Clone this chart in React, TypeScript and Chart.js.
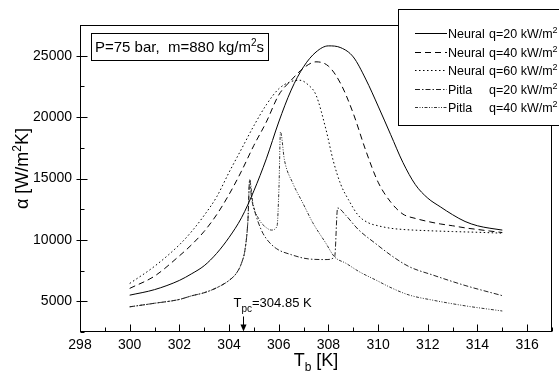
import React, { useEffect, useRef } from 'react';
import { Chart, registerables } from 'chart.js';

Chart.register(...registerables);

const FONT = '"Liberation Sans", Arial, Helvetica, sans-serif';

// ---- data ----
const neural20T = [300, 301, 302, 302.5, 303, 303.5, 304, 304.5, 305, 305.5, 306, 306.5, 307, 307.5, 308, 308.5, 309, 309.5, 310, 310.5, 311, 311.5, 312, 312.5, 313, 313.5, 314, 314.5, 315];
const neural20V = [5500, 5950, 6700, 7250, 7900, 8900, 10200, 11800, 14000, 16600, 19600, 22200, 24100, 25300, 25800, 25650, 24900, 23100, 20900, 18600, 16300, 14500, 13400, 12700, 12050, 11500, 11150, 10950, 10800];

const neural40T = [300, 301, 302, 302.5, 303, 303.5, 304, 304.5, 305, 305.5, 306, 306.5, 307, 307.5, 308, 308.5, 309, 309.5, 310, 310.5, 311, 311.5, 312, 312.5, 313, 313.5, 314, 314.5, 315];
const neural40V = [6050, 7050, 8700, 9620, 10700, 12050, 13700, 15600, 17700, 19600, 21800, 23000, 24000, 24500, 24150, 22700, 20300, 17300, 14700, 13100, 12100, 11750, 11500, 11300, 11150, 10980, 10850, 10720, 10600];

const neural60T = [300, 301, 302, 302.5, 303, 303.5, 304, 304.5, 305, 305.5, 306, 306.5, 306.85, 307.2, 307.5, 307.9, 308.2, 308.5, 308.8, 309.2, 309.6, 310, 310.5, 311, 312, 313, 314, 315];
const neural60V = [6450, 7850, 9600, 10700, 12000, 13500, 15500, 17400, 19300, 21000, 22300, 22900, 23000, 22600, 21800, 19000, 16400, 14500, 13300, 12000, 11400, 11150, 10950, 10850, 10750, 10680, 10620, 10550];

const pitla20T = [300, 301, 302, 302.5, 303, 303.5, 304, 304.3, 304.5, 304.65, 304.76, 304.83, 304.9, 305.1, 305.3, 305.5, 305.9, 306.5, 307.2, 307.9, 308.25, 308.37, 308.7, 309.2, 309.9, 310.6, 311.25, 312.2, 313.5, 315];
const pitla20V = [4550, 4840, 5150, 5450, 5700, 6100, 6700, 7300, 8100, 9300, 11600, 14900, 13500, 11900, 10800, 10100, 9300, 8800, 8450, 8400, 8600, 12600, 12000, 10850, 9700, 8630, 7820, 7140, 6290, 5460];

const pitla40T = [300, 301, 302, 302.5, 303, 303.5, 304, 304.3, 304.5, 304.65, 304.76, 304.83, 304.96, 305.23, 305.5, 305.7, 305.93, 306.01, 306.07, 306.23, 306.57, 306.97, 307.37, 307.9, 308.24, 308.71, 309.24, 309.91, 310.58, 311.25, 312.18, 313.54, 315];
const pitla40V = [4550, 4840, 5150, 5450, 5700, 6100, 6700, 7300, 8100, 9300, 11600, 14900, 13000, 11600, 11000, 10800, 11100, 14300, 18800, 16500, 14600, 13000, 11400, 9720, 8630, 8090, 7410, 6730, 6050, 5510, 5100, 4620, 4210];

const seriesNames = ['Neural', 'Neural', 'Neural', 'Pitla', 'Pitla'];
const seriesQ = ['q=20 kW/m', 'q=40 kW/m', 'q=60 kW/m', 'q=20 kW/m', 'q=40 kW/m'];
const seriesDash = [[], [6, 4], [1.5, 2.5], [5, 2, 1.5, 2], [3, 1.5, 1, 1.5, 1, 1.5]];
const seriesColor = ['#000', '#000', '#000', '#222', '#333'];

const xMin = 298, xMax = 317, xStep = 1;
const yMin = 2500, yMax = 27500, yStep = 2500;
const tpcArrowT = 304.55;
const tpcLabel = '=304.85 K';
const conditionRuns = ['P=75 bar,  m=880 kg/m', '2', 's'];

type Run = { t: string; s: number; dy: number };

function drawRuns(ctx: CanvasRenderingContext2D, runs: Run[], x: number, y: number, align: 'left' | 'center') {
  let w = 0;
  runs.forEach(r => { ctx.font = `${r.s}px ${FONT}`; w += ctx.measureText(r.t).width; });
  let cx = align === 'center' ? x - w / 2 : x;
  ctx.textAlign = 'left';
  ctx.textBaseline = 'alphabetic';
  runs.forEach(r => {
    ctx.font = `${r.s}px ${FONT}`;
    ctx.fillText(r.t, cx, y + r.dy);
    cx += ctx.measureText(r.t).width;
  });
}

const overlay = {
  id: 'overlay',
  afterDraw(chart: any) {
    const { ctx, chartArea: a } = chart;
    const xs = chart.scales.x, ys = chart.scales.y;
    ctx.save();
    ctx.strokeStyle = '#000';
    ctx.fillStyle = '#000';
    ctx.lineWidth = 1;
    ctx.setLineDash([]);
    const L = Math.round(a.left) + 0.5, R = Math.round(a.right) - 0.5;
    const T = Math.round(a.top) + 0.5, B = Math.round(a.bottom) - 0.5;
    ctx.strokeRect(L, T, R - L, B - T);

    xs.ticks.forEach((t: any) => {
      const px = Math.round(xs.getPixelForValue(t.value)) + 0.5;
      const major = t.value % 2 === 0;
      ctx.beginPath(); ctx.moveTo(px, B); ctx.lineTo(px, B - (major ? 7 : 4)); ctx.stroke();
    });
    ys.ticks.forEach((t: any) => {
      const py = Math.round(ys.getPixelForValue(t.value)) + 0.5;
      const major = t.value % 5000 === 0;
      ctx.beginPath(); ctx.moveTo(major ? L - 4 : L, py); ctx.lineTo(L + (major ? 7 : 4), py); ctx.stroke();
    });

    // axis titles
    drawRuns(ctx, [{ t: 'T', s: 18, dy: 0 }, { t: 'b', s: 12, dy: 5 }, { t: ' [K]', s: 18, dy: 0 }], (a.left + a.right) / 2, 366, 'center');
    ctx.save();
    ctx.translate(28, (a.top + a.bottom) / 2 - 10);
    ctx.rotate(-Math.PI / 2);
    drawRuns(ctx, [{ t: '\u03b1 [W/m', s: 18, dy: 0 }, { t: '2', s: 12, dy: -7 }, { t: 'K]', s: 18, dy: 0 }], 0, 0, 'center');
    ctx.restore();

    // condition box
    const bx = a.left + 11, by = a.top + 8, bw = 177, bh = 27;
    ctx.strokeRect(Math.round(bx) + 0.5, Math.round(by) + 0.5, bw, bh);
    drawRuns(ctx, [{ t: conditionRuns[0], s: 15, dy: 0 }, { t: conditionRuns[1], s: 10, dy: -6 }, { t: conditionRuns[2], s: 15, dy: 0 }], bx + bw / 2, by + 19, 'center');

    // Tpc arrow
    const ax = Math.round(xs.getPixelForValue(tpcArrowT)) + 0.5;
    ctx.beginPath(); ctx.moveTo(ax, B - 15); ctx.lineTo(ax, B - 6); ctx.stroke();
    ctx.beginPath(); ctx.moveTo(ax - 3, B - 7); ctx.lineTo(ax + 3, B - 7); ctx.lineTo(ax, B); ctx.closePath(); ctx.fill();
    drawRuns(ctx, [{ t: 'T', s: 13, dy: 0 }, { t: 'pc', s: 10, dy: 5 }, { t: tpcLabel, s: 13, dy: 0 }], ax - 10, B - 25, 'left');

    // legend
    const lx = a.right - 154, ly = a.top - 16;
    ctx.fillStyle = '#fff';
    ctx.fillRect(Math.round(lx), Math.round(ly), 200, 116);
    ctx.fillStyle = '#000';
    ctx.strokeRect(Math.round(lx) + 0.5, Math.round(ly) + 0.5, 200, 116);
    chart.data.datasets.forEach((ds: any, i: number) => {
      const yy = Math.round(ly + 24 + i * 18.5) + 0.5;
      ctx.strokeStyle = ds.borderColor;
      ctx.setLineDash(ds.borderDash || []);
      ctx.beginPath(); ctx.moveTo(lx + 17, yy); ctx.lineTo(lx + 49, yy); ctx.stroke();
      ctx.setLineDash([]);
      ctx.fillStyle = '#000';
      drawRuns(ctx, [{ t: seriesNames[i], s: 12.5, dy: 0 }], lx + 50, yy + 4.5, 'left');
      drawRuns(ctx, [{ t: seriesQ[i], s: 12.5, dy: 0 }, { t: '2', s: 9, dy: -5 }], lx + 91, yy + 4.5, 'left');
    });
    ctx.restore();
  },
};

function pts(t: number[], v: number[]) {
  return t.map((x, i) => ({ x, y: v[i] }));
}

export default function App() {
  const ref = useRef<HTMLCanvasElement | null>(null);
  useEffect(() => {
    if (!ref.current) return;
    const sets = [
      pts(neural20T, neural20V),
      pts(neural40T, neural40V),
      pts(neural60T, neural60V),
      pts(pitla20T, pitla20V),
      pts(pitla40T, pitla40V),
    ];
    const chart = new Chart(ref.current, {
      type: 'line',
      data: {
        datasets: sets.map((d, i) => ({
          label: `${seriesNames[i]} ${seriesQ[i]}2`,
          data: d,
          borderColor: seriesColor[i],
          borderWidth: 1,
          borderDash: seriesDash[i],
          pointRadius: 0,
          fill: false,
          cubicInterpolationMode: 'monotone' as const,
        })),
      },
      options: {
        animation: false,
        responsive: false,
        layout: { padding: { top: 25, right: 7, left: 0, bottom: 0 } },
        plugins: { legend: { display: false }, tooltip: { enabled: false }, title: { display: false } },
        scales: {
          x: {
            type: 'linear',
            min: xMin,
            max: xMax,
            grid: { display: false, drawTicks: false },
            border: { display: false },
            afterFit: (s: any) => { s.height = 50; },
            ticks: {
              stepSize: xStep,
              autoSkip: false,
              maxRotation: 0,
              padding: 5,
              color: '#000',
              font: { family: FONT, size: 14 },
              callback: (v: any) => (Number(v) % 2 === 0 ? String(v) : ''),
            },
          },
          y: {
            type: 'linear',
            min: yMin,
            max: yMax,
            grid: { display: false, drawTicks: false },
            border: { display: false },
            afterFit: (s: any) => { s.width = 80; },
            ticks: {
              stepSize: yStep,
              autoSkip: false,
              padding: 8,
              color: '#000',
              font: { family: FONT, size: 14 },
              callback: (v: any) => (Number(v) % 5000 === 0 ? String(v) : ''),
            },
          },
        },
      },
      plugins: [overlay],
    } as any);
    return () => chart.destroy();
  }, []);
  return (
    <div style={{ position: 'fixed', left: 0, top: 0, width: 559, height: 382, background: '#fff' }}>
      <canvas ref={ref} width={559} height={382} style={{ width: 559, height: 382, display: 'block' }} />
    </div>
  );
}
